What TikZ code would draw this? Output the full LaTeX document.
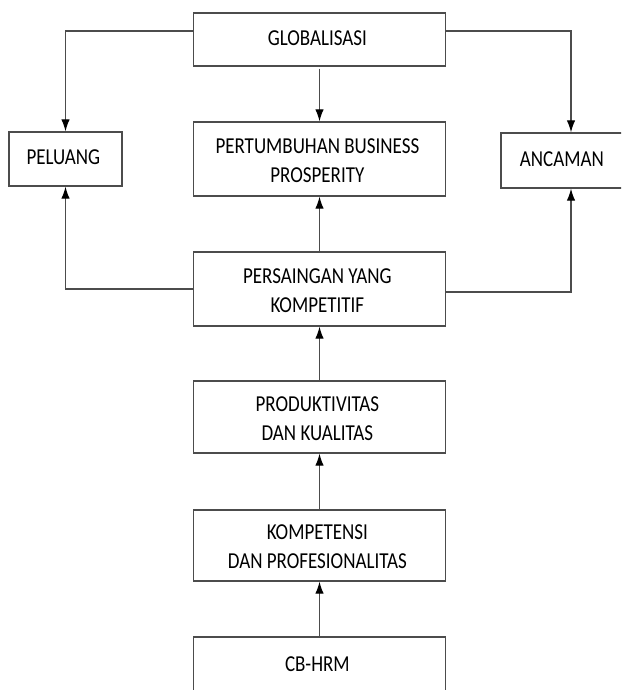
\documentclass[tikz,border=0pt]{standalone}
\usepackage{fontspec}
\usepackage{graphicx}
\setmainfont{Carlito}
\usetikzlibrary{arrows.meta}
\newcommand{\teks}[1]{\scalebox{1}[1.2]{\begin{tabular}{@{}c@{}}#1\end{tabular}}}
\newcommand{\teksdua}[1]{\raisebox{-3pt}[\height][\depth]{\teks{#1}}}

\begin{document}
\begin{tikzpicture}[
    x=1pt, y=-1pt,
    blok/.style={draw=black!70,line width=1.3pt,fill=white,align=center,inner sep=0pt,
      font=\fontsize{19}{24}\selectfont,minimum width=252pt},
    panah/.style={draw=black!70,line width=1.3pt,-{Latex[length=12pt,width=8.5pt,color=black]}}]
  \path[use as bounding box,clip] (0,0) rectangle (621,690);
  \node[blok,minimum height=53pt] (glob) at (319.5,39.5) { \teks{GLOBALISASI} };
  \node[blok,minimum width=113pt,minimum height=54pt] (peluang) at (65.5,159) { \teks{PELUANG} };
  \node[blok,minimum height=74pt] (tumbuh) at (319.5,159) { \teksdua{PERTUMBUHAN BUSINESS\\PROSPERITY} };
  \node[blok,minimum width=140pt,minimum height=55pt] (ancaman) at (571,160.5) { \hspace*{-14pt}\teks{ANCAMAN} };
  \node[blok,minimum height=74pt] (saing) at (319.5,289) { \teksdua{PERSAINGAN YANG\\KOMPETITIF} };
  \node[blok,minimum height=72pt] (produk) at (319.5,417) { \teksdua{PRODUKTIVITAS\\DAN KUALITAS} };
  \node[blok,minimum height=71pt] (kompet) at (319.5,545.5) { \teksdua{KOMPETENSI\\DAN PROFESIONALITAS} };
  \node[blok,minimum height=58pt] (cbhrm) at (319.5,666) { \teks{CB-HRM} };
  \draw[panah] ([yshift=8.5pt]glob.west) -| (peluang);
  \draw[panah] ([yshift=8.5pt]glob.east) -| (ancaman);
  \draw[panah] ([yshift=-2pt]glob.south) -- (tumbuh);
  \draw[panah] (saing) -- (tumbuh);
  \draw[panah] (saing.west) -| (peluang);
  \draw[panah] ([yshift=-3pt]saing.east) -| (ancaman);
  \draw[panah] (produk) -- (saing);
  \draw[panah] (kompet) -- (produk);
  \draw[panah] (cbhrm) -- (kompet);
\end{tikzpicture}
\end{document}
